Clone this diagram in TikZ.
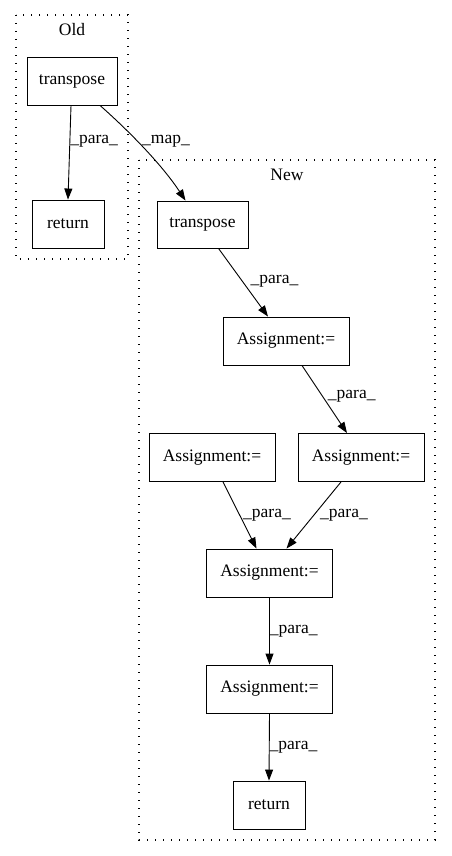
\documentclass[tikz,border=0pt]{standalone}
\usepackage{fontspec}
\setmainfont{Liberation Serif}
\usetikzlibrary{arrows.meta}
\begin{document}
\begin{tikzpicture}[x=1pt,y=-1pt,
  every node/.style={font=\fontsize{17.5}{20}\selectfont},
  box/.style={draw,line width=0.9pt,minimum height=48pt,inner sep=0pt},
  cluster/.style={draw,line width=1.3pt,dash pattern=on 1.3pt off 6.7pt},
  edge/.style={line width=0.9pt,-{Triangle[length=11pt,width=8pt]}},
  lbl/.style={inner sep=0pt,anchor=west}]
\useasboundingbox (0,0) rectangle (451,856);
\draw[cluster] (16,15) rectangle (128,259);
\draw[cluster] (139,160) rectangle (435,840);
\node (oldlbl) at (72,30) {Old};
\node (newlbl) at (287,175) {New};
\node[box,minimum width=90pt] (ot) at (72,81) {transpose};
\node[box,minimum width=72pt] (or) at (68,224) {return};
\node[box,minimum width=91pt,minimum height=47pt] (nt) at (202.5,224.5) {transpose};
\node[box,minimum width=126pt] (a1) at (286,341) {Assignment:=};
\node[box,minimum width=126pt] (a2) at (361,457.5) {Assignment:=};
\node[box,minimum width=126pt] (a3) at (212,457.5) {Assignment:=};
\node[box,minimum width=126pt] (a4) at (269.5,573) {Assignment:=};
\node[box,minimum width=126pt] (a5) at (269.5,689) {Assignment:=};
\node[box,minimum width=72pt] (nr) at (269,805) {return};
\draw[edge] ([xshift=-1pt]ot.south) -- (or.north) node[lbl,pos=0.38,xshift=0pt] (l1) {\_para\_};
\draw[edge] ([xshift=28pt]ot.south) .. controls +(25,22) and +(-25,-38) .. ([xshift=-17pt]nt.north);
\node[lbl] (l2) at (142,141) {\_map\_};
\draw[edge] ([xshift=16pt]nt.south) -- ([xshift=-18pt]a1.north) node[lbl,midway,xshift=7pt,yshift=1pt] (l3) {\_para\_};
\draw[edge] ([xshift=16pt]a1.south) -- ([xshift=-14pt]a2.north) node[lbl,midway,xshift=3pt,yshift=3pt] (l4) {\_para\_};
\draw[edge] ([xshift=11pt]a3.south) -- ([xshift=-13pt]a4.north) node[lbl,midway,xshift=3pt] (l5) {\_para\_};
\draw[edge] ([xshift=-20pt]a2.south) -- ([xshift=17pt]a4.north) node[lbl,midway,xshift=6pt] (l6) {\_para\_};
\draw[edge] (a4.south) -- (a5.north) node[lbl,midway] (l7) {\_para\_};
\draw[edge] (a5.south) -- (nr.north) node[lbl,midway] (l8) {\_para\_};
\end{tikzpicture}
\end{document}
